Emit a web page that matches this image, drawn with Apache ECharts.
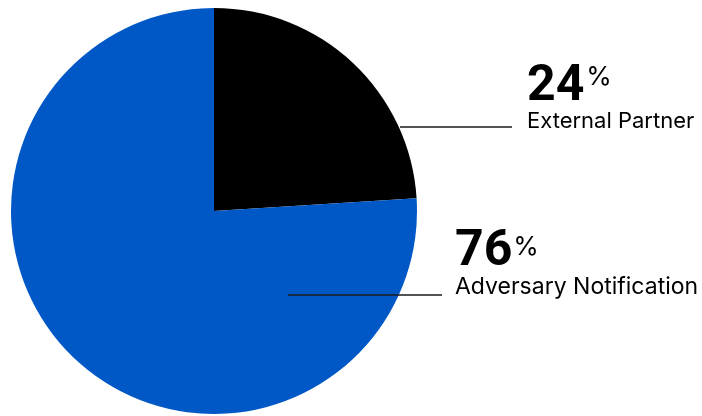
<!DOCTYPE html>
<html>
<head>
<meta charset="utf-8">
<script src="https://cdn.jsdelivr.net/npm/echarts@6/dist/echarts.min.js"></script>
<style>
html,body{margin:0;padding:0;background:#fff;}
#chart{width:702px;height:416px;}
</style>
</head>
<body>
<div id="chart"></div>
<script>
var categories = ['External Partner', 'Adversary Notification'];
var values = [24, 76];
var colors = ['#000000', '#0057c6'];

var labelSpots = [
  {x: 527, y: 62, pctPad: [2, 0, 0, 2], nameSize: 22, nameLH: 24},
  {x: 455, y: 227, pctPad: [7, 0, 0, 1], nameSize: 23, nameLH: 27}
];
var leaderLines = [
  [400, 127, 512, 127],
  [288, 295, 442, 295]
];

function richFor(s) {
  return {
    num: {fontFamily: 'Roboto', fontWeight: 'bold', fontSize: 50, color: '#000', lineHeight: 47, verticalAlign: 'top'},
    pct: {fontFamily: 'Inter', fontSize: 26, color: '#000', lineHeight: 18, verticalAlign: 'top', padding: s.pctPad},
    name: {fontFamily: 'Inter', fontSize: s.nameSize, color: '#000', lineHeight: s.nameLH}
  };
}

var chart = echarts.init(document.getElementById('chart'));
chart.setOption({
  animation: false,
  graphic: leaderLines.map(function (l) {
    return {type: 'line', z: 100, shape: {x1: l[0], y1: l[1], x2: l[2], y2: l[3]},
      style: {stroke: '#1a1a1a', lineWidth: 1.5}};
  }),
  series: [{
    type: 'pie',
    center: [214, 211],
    radius: 203,
    startAngle: 90,
    clockwise: true,
    data: categories.map(function (c, i) {
      return {name: c, value: values[i], itemStyle: {color: colors[i]},
        label: {rich: richFor(labelSpots[i])}};
    }),
    label: {
      show: true,
      overflow: 'none',
      formatter: function (p) {
        return '{num|' + p.value + '}{pct|%}\n{name|' + p.name + '}';
      }
    },
    labelLine: {show: false},
    labelLayout: function (params) {
      var s = labelSpots[params.dataIndex];
      return {x: s.x, y: s.y, align: 'left', verticalAlign: 'top'};
    }
  }]
});
</script>
</body>
</html>
